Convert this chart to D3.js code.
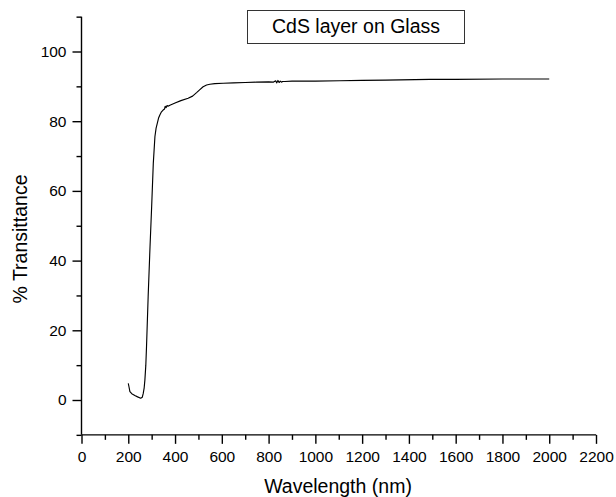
<!DOCTYPE html>
<html>
<head>
<meta charset="utf-8">
<script src="https://cdn.jsdelivr.net/npm/d3@7"></script>
<style>
  body { margin: 0; background: #fff; }
  text { font-family: "Liberation Sans", Arial, sans-serif; fill: #000; }
</style>
</head>
<body>
<div id="chart"></div>
<script>
// Transmittance spectrum of a CdS layer on glass

const wavelength = [200, 203, 207, 215, 228, 240, 253, 260, 264, 268, 271, 275, 278, 285, 293, 300, 307, 314, 319, 324,
    330, 335, 342, 349, 355, 358, 362, 366, 370, 378, 400, 425, 456, 475, 492, 505, 520, 535, 549, 570,
    606, 650, 700, 748, 800, 820, 830, 835, 840, 845, 850, 855, 860, 870, 900, 1000, 1104, 1200, 1300, 1489,
    1600, 1800, 2000];
const transmittance = [4.8, 3.8, 2.4, 1.8, 1.3, 0.9, 0.5, 0.8, 1.9, 3.5, 5.7, 10, 15.3, 29.6, 44, 55.5, 67.9, 75.6, 78, 79.4,
    81, 81.8, 82.7, 83.2, 83.5, 84.3, 83.9, 84.5, 84.3, 84.6, 85.2, 85.9, 86.6, 87.2, 88.2, 89, 89.9, 90.4, 90.6, 90.8,
    90.9, 91.0, 91.1, 91.2, 91.3, 91.2, 91.6, 91.0, 91.7, 91.1, 91.5, 91.2, 91.4, 91.4, 91.5, 91.5, 91.6, 91.7, 91.8, 92.0,
    92.0, 92.1, 92.1];

const xMajorTicks = [0, 200, 400, 600, 800, 1000, 1200, 1400, 1600, 1800, 2000, 2200];
const yMajorTicks = [0, 20, 40, 60, 80, 100];
const legendLabel = "CdS layer on Glass";
const xTitle = "Wavelength (nm)";
const yTitle = "% Transittance";

const width = 616, height = 497;

const svg = d3.select("#chart").append("svg")
              .attr("width", width)
              .attr("height", height);

// Scales, hard-coded to the plot area of the original
const xScale = d3.scaleLinear().domain([0, 2200]).range([81.5, 596]);
const yScale = d3.scaleLinear().domain([-10, 110]).range([434.85, 16.65]);

// Minor ticks (every 100 nm, every 10 %)
svg.append("g")
   .attr("transform", "translate(0," + yScale(-10) + ")")
   .call(d3.axisBottom(xScale).tickValues(d3.range(100, 2200, 200)).tickSize(5).tickFormat(""))
   .call(g => g.select(".domain").remove());
svg.append("g")
   .attr("transform", "translate(" + xScale(0) + ",0)")
   .call(d3.axisLeft(yScale).tickValues(d3.range(-10, 111, 20)).tickSize(5).tickFormat(""))
   .call(g => g.select(".domain").remove());

// Major ticks with labels
const xAxis = svg.append("g")
   .attr("transform", "translate(0," + yScale(-10) + ")")
   .call(d3.axisBottom(xScale).tickValues(xMajorTicks).tickSize(9).tickPadding(7).tickFormat(d => d));
xAxis.select(".domain").remove();
xAxis.selectAll("text").style("font-size", "15.5px").attr("dy", "0.71em");

const yAxis = svg.append("g")
   .attr("transform", "translate(" + xScale(0) + ",0)")
   .call(d3.axisLeft(yScale).tickValues(yMajorTicks).tickSize(9).tickPadding(6).tickFormat(d => d));
yAxis.select(".domain").remove();
yAxis.selectAll("text").style("font-size", "15.5px");

svg.selectAll(".tick line").attr("stroke", "#000").attr("stroke-width", 1.4);

// Axis lines
svg.append("line")
   .attr("x1", xScale(0)).attr("x2", xScale(2200))
   .attr("y1", yScale(-10)).attr("y2", yScale(-10))
   .attr("stroke", "#000").attr("stroke-width", 1.4);
svg.append("line")
   .attr("x1", xScale(0)).attr("x2", xScale(0))
   .attr("y1", yScale(-10)).attr("y2", yScale(110))
   .attr("stroke", "#000").attr("stroke-width", 1.4);

// The spectrum
const points = wavelength.map((w, i) => [w, transmittance[i]]);
svg.append("path")
   .datum(points)
   .attr("fill", "none")
   .attr("stroke", "#000")
   .attr("stroke-width", 1.15)
   .attr("stroke-linejoin", "round")
   .attr("d", d3.line().x(d => xScale(d[0])).y(d => yScale(d[1])));

// Axis titles
svg.append("text")
   .attr("x", 338).attr("y", 493)
   .attr("text-anchor", "middle")
   .style("font-size", "19.5px")
   .text(xTitle);
svg.append("text")
   .attr("transform", "translate(27,239) rotate(-90)")
   .attr("text-anchor", "middle")
   .style("font-size", "19.5px")
   .text(yTitle);

// Legend box
svg.append("rect")
   .attr("x", 247.5).attr("y", 10.5)
   .attr("width", 217).attr("height", 33)
   .attr("fill", "#fff")
   .attr("stroke", "#333").attr("stroke-width", 1);
svg.append("text")
   .attr("x", 356).attr("y", 32.5)
   .attr("text-anchor", "middle")
   .style("font-size", "19.5px")
   .text(legendLabel);
</script>
</body>
</html>
